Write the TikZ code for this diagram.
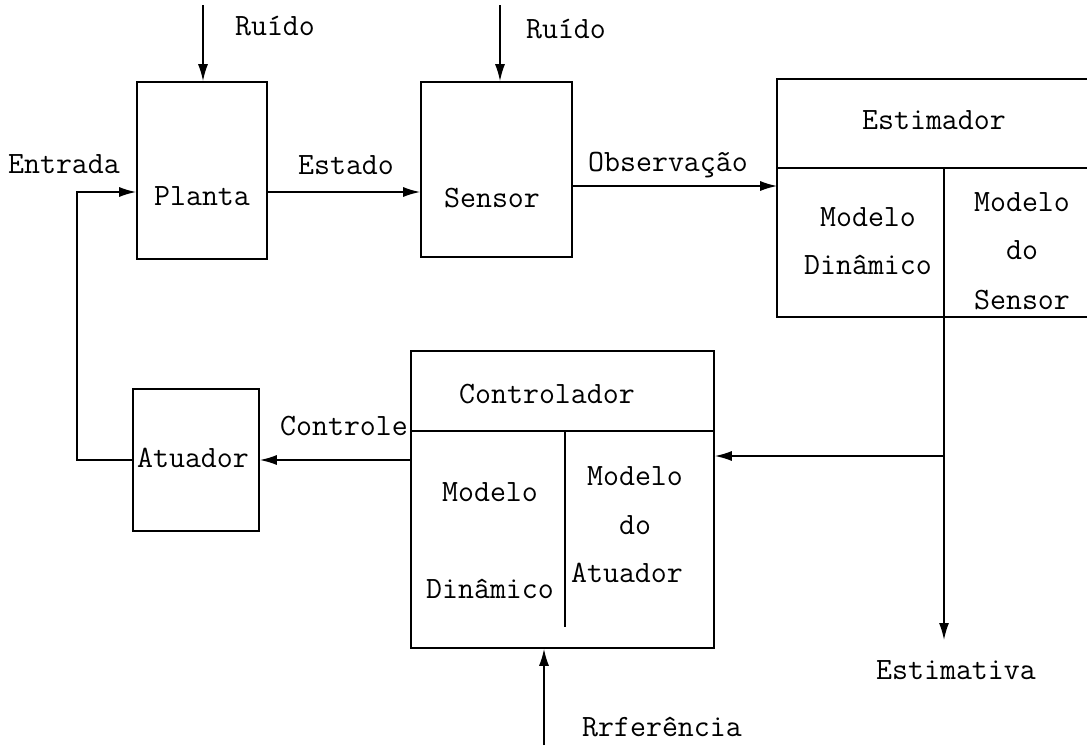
\documentclass[tikz,border=0pt]{standalone}
\usetikzlibrary{arrows.meta,calc}
\begin{document}
\begin{tikzpicture}[x=1pt,y=-1pt,
  line width=1.6pt,
  txt/.style={font=\ttfamily\fontsize{31}{36}\selectfont, inner sep=0pt, anchor=center},
  blk/.style={draw, rectangle, inner sep=0pt},
  arr/.style={-{Latex[length=17pt,width=10pt]}},
  ln/.style={line width=1.6pt}]
\useasboundingbox (0,0) rectangle (1088,745);
% blocks
\node[blk, minimum width=130pt, minimum height=177pt] (plant) at (202,170.5) {};
\node[blk, minimum width=151pt, minimum height=175pt] (sens) at (496.5,169.5) {};
\node[blk, minimum width=126pt, minimum height=142pt] (atu) at (196,460) {};
\node[blk, minimum width=303pt, minimum height=297pt] (ctrl) at (562.5,499.5) {};
\node[rectangle, minimum width=308pt, minimum height=236pt, inner sep=0pt] (est) at (932,198) {};
% estimador outline (open at right)
\draw[ln] (est.north east) -- (est.north west) -- (est.south west) -- (est.south east);
\coordinate (estdiv) at (778,168);
\draw[ln] (estdiv) -- (estdiv -| est.east);
\coordinate (estv) at (944,168);
\draw[ln] (estv) -- (estv |- est.south);
% controlador dividers
\coordinate (cdiv) at (411,431);
\draw[ln] (cdiv) -- (cdiv -| ctrl.east);
\coordinate (cv) at (565,431);
\coordinate (cvb) at (565,627);
\draw[ln] (cv) -- (cvb);
% texts
\node[txt] (tplant) at (202,196) {Planta};
\node[txt] (tsens) at (492,198) {Sensor};
\node[txt] (tatu) at (193,458) {Atuador};
\node[txt] (tctrl) at (547,394) {Controlador};
\node[txt] (tcm1) at (490,492) {Modelo};
\node[txt] (tcm2) at (490,589) {Dinâmico};
\node[txt] (tcm3) at (635,476) {Modelo};
\node[txt] (tcm4) at (635,525) {do};
\node[txt] (tcm5) at (627,573) {Atuador};
\node[txt] (test) at (934,120) {Estimador};
\node[txt] (tem1) at (868,217) {Modelo};
\node[txt] (tem2) at (868,265) {Dinâmico};
\node[txt] (tem3) at (1022,202) {Modelo};
\node[txt] (tem4) at (1022,250) {do};
\node[txt] (tem5) at (1022,300) {Sensor};
\node[txt] (lr1) at (275,26) {Ruído};
\node[txt] (lr2) at (566,29) {Ruído};
\node[txt] (lent) at (64,164) {Entrada};
\node[txt] (lestado) at (346,165) {Estado};
\node[txt] (lobs) at (668,165) {Observação};
\node[txt] (lctl) at (344,426) {Controle};
\node[txt] (lesti) at (956,670) {Estimativa};
\node[txt] (lref) at (662,727) {Rrferência};
% connectors
\coordinate (n1) at (203,5);
\draw[arr] (n1) -- (n1 |- plant.north);
\coordinate (n2) at (500,5);
\draw[arr] (n2) -- (n2 |- sens.north);
\coordinate (pin) at (137,192);
\coordinate (fb) at (77,460);
\draw[arr] (atu.west) -- (fb) -- (fb |- pin) -- (plant.west |- pin);
\coordinate (pst) at (267,192);
\draw[arr] (plant.east |- pst) -- (sens.west |- pst);
\coordinate (ob) at (572,186);
\draw[arr] (sens.east |- ob) -- (est.west |- ob);
\coordinate (eout) at (944,640);
\draw[arr] (estv |- est.south) -- (eout);
\coordinate (br) at (944,456);
\draw[arr] (br) -- (ctrl.east |- br);
\draw[arr] (ctrl.west |- atu.east) -- (atu.east);
\coordinate (rin) at (544,745);
\draw[arr] (rin) -- (rin |- ctrl.south);
\end{tikzpicture}
\end{document}
